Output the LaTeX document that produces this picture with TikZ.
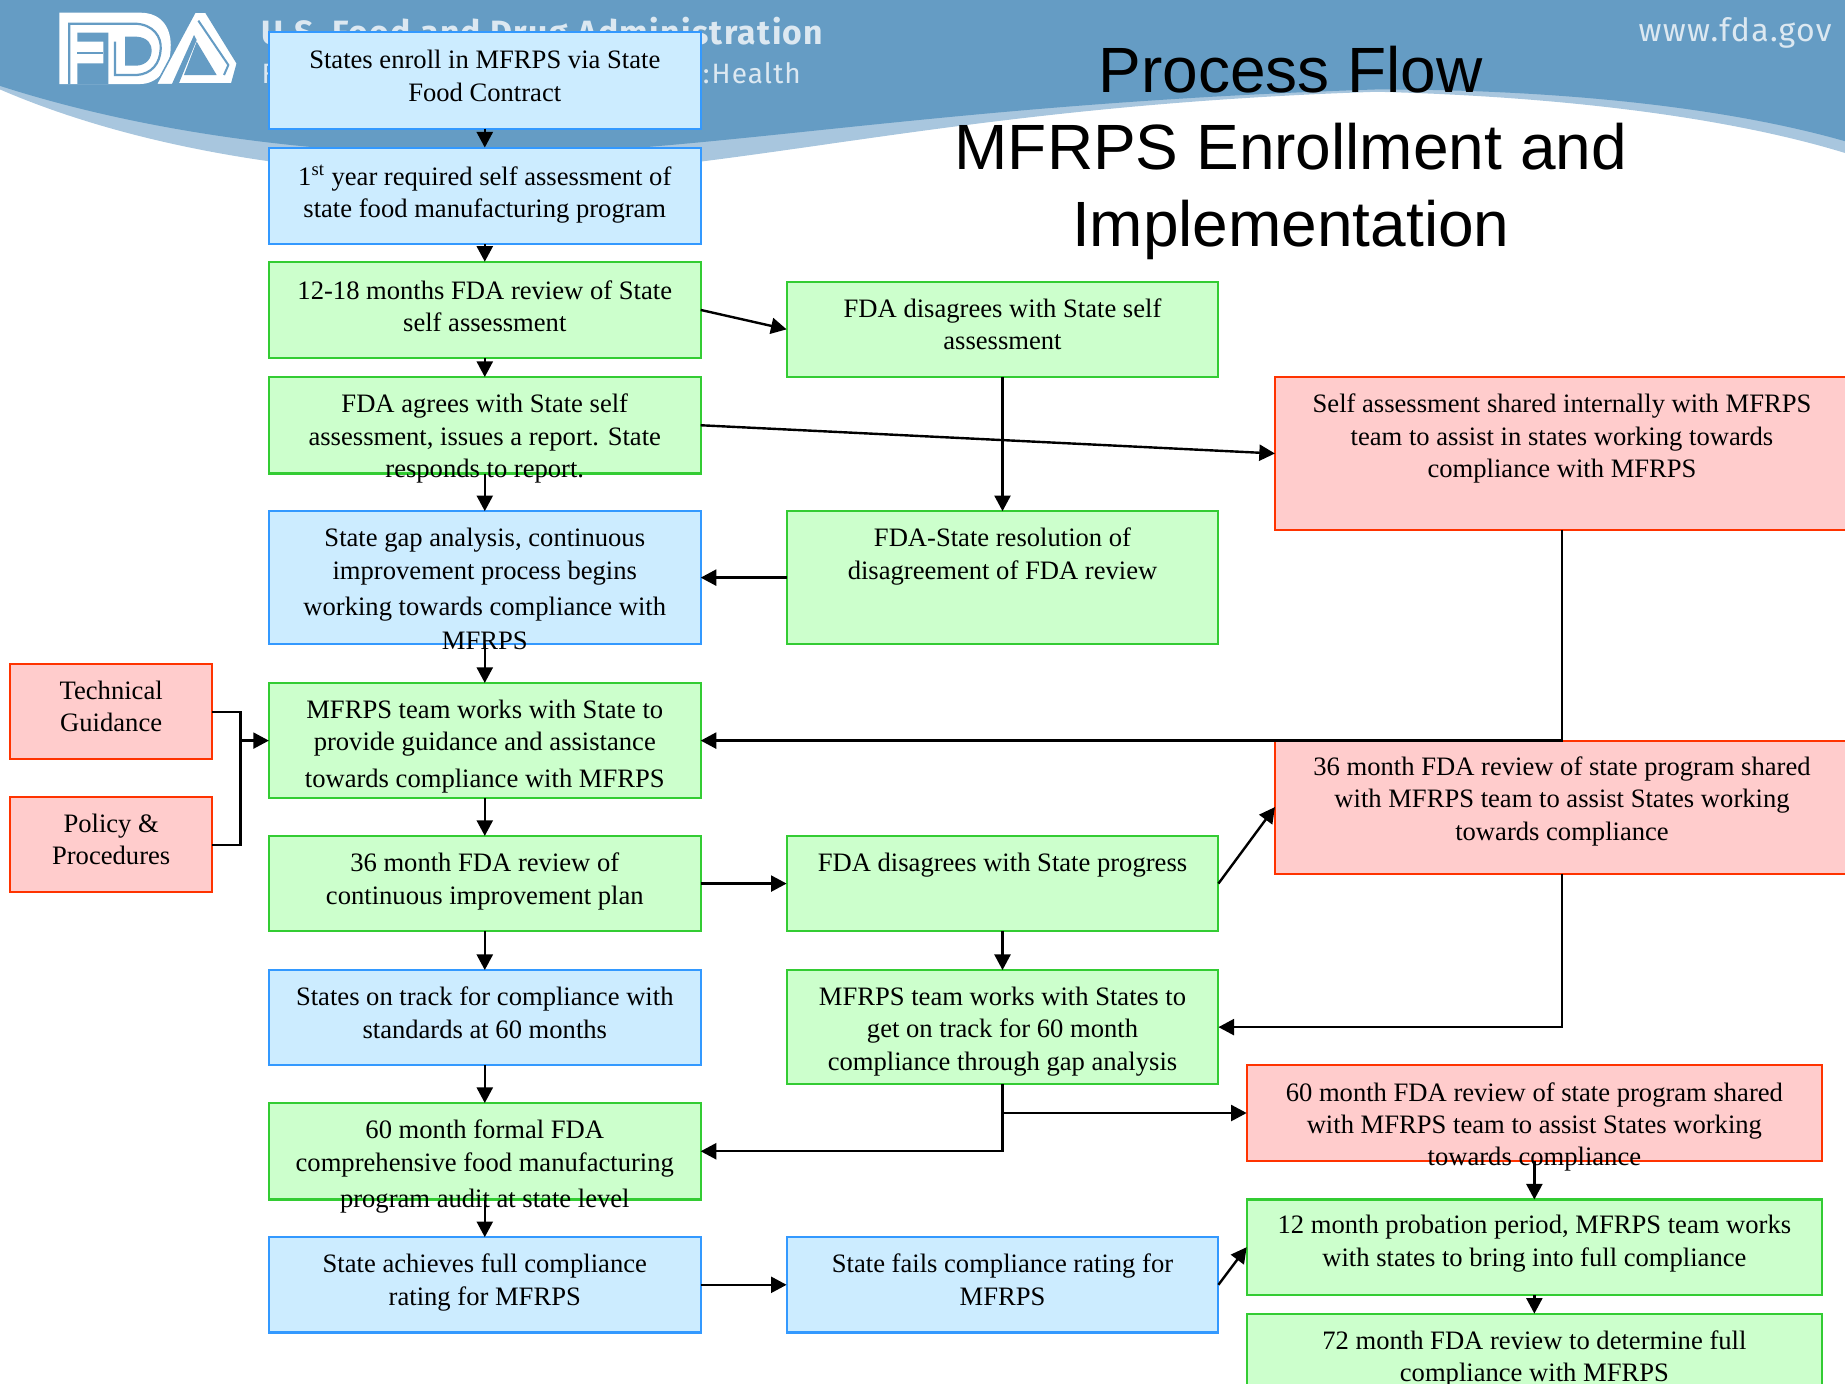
\documentclass[tikz,border=0pt]{standalone}
\usepackage{fontspec}
\setmainfont{Liberation Serif}
\newfontfamily\arialf{Liberation Sans}
\newfontfamily\headf[LetterSpace=4]{Fira Sans}
\usetikzlibrary{arrows.meta,calc}
\definecolor{hdr}{HTML}{659CC4}
\definecolor{hdrlight}{HTML}{A8C6DE}
\definecolor{hdrtxt}{HTML}{DCE8F1}
\definecolor{bfill}{HTML}{CCECFF}\definecolor{bline}{HTML}{3399FF}
\definecolor{gfill}{HTML}{CCFFCC}\definecolor{gline}{HTML}{33CC33}
\definecolor{rfill}{HTML}{FFCCCC}\definecolor{rline}{HTML}{FF3300}
\tikzset{
  x=0.5883pt,y=-0.5883pt,
  flowbox/.style={rectangle,inner sep=0pt,outer sep=0pt,line width=1.05pt},
  bluebox/.style={flowbox,draw=bline,fill=bfill},
  greenbox/.style={flowbox,draw=gline,fill=gfill},
  redbox/.style={flowbox,draw=rline,fill=rfill},
  conn/.style={line width=1.2pt,black,-{Triangle[length=7.8pt,width=8pt]}},
  plainconn/.style={line width=1.2pt,black},
  titletext/.style={font=\arialf\fontsize{32}{38.5}\selectfont,align=center},
}
% name, style, l, t, r, b, top pad(pt), text
\newcommand{\fbx}[8]{%
  \pgfmathsetlengthmacro{\fbw}{(#5-#3)*0.5883}%
  \pgfmathsetlengthmacro{\fbh}{(#6-#4)*0.5883}%
  \node[#2,anchor=center] (#1) at ({(#3+#5)/2+0.5},{(#4+#6)/2+0.4})
    {\parbox[c][\fbh][t]{\fbw}{\centering\fontsize{13.3}{16.2}\selectfont\vspace*{\dimexpr#7+6.5pt\relax}#8\par\vspace*{-30pt}}};%
}
\begin{document}
\begin{tikzpicture}
\useasboundingbox (0,0) rectangle (1568,1175.4);
\clip (0,0) rectangle (1568,1175.4);
% header band
\fill[hdrlight] (0,76) .. controls (90,115) and (230,150) .. (420,150)
  .. controls (620,150) and (800,90) .. (1170,78)
  .. controls (1330,82) and (1470,100) .. (1568,130) -- (1568,0) -- (0,0) -- cycle;
\fill[hdr] (0,73) .. controls (90,102) and (230,132) .. (420,132)
  .. controls (620,128) and (800,88) .. (1170,76)
  .. controls (1330,76) and (1470,92) .. (1568,120) -- (1568,0) -- (0,0) -- cycle;
% FDA logo
\begin{scope}[shift={(34,0)},x=0.16667pt,y=-0.16667pt]
\fill[white] (58,38) -- (300,38) .. controls (370,38) and (395,90) .. (392,145)
  .. controls (390,210) and (350,252) .. (300,252) -- (58,252) -- cycle;
\fill[hdr] (112,98) -- (205,98) -- (205,252) -- (112,252) -- (112,190) -- (190,190) -- (190,125) -- (112,125) -- cycle;
\fill[hdr] (255,110) -- (290,110) .. controls (325,112) and (335,135) .. (335,150)
  .. controls (335,175) and (320,195) .. (290,197) -- (255,197) -- cycle;
\draw[hdr,line width=1.1pt] (88,252) -- (88,71) -- (285,71) .. controls (340,73) and (365,110) .. (362,148)
  .. controls (360,190) and (335,222) .. (290,225) -- (225,225) -- (225,125);
\draw[hdr,line width=1pt] (112,158) -- (190,158);
\fill[white,draw=hdr,line width=.8pt] (348,254) -- (465,36) -- (497,36) -- (592,190) -- (575,252) -- (430,252) -- (415,252) -- (395,254) -- cycle;
\fill[hdr] (432,225) -- (470,125) -- (530,225) -- cycle;
\fill[hdr] (395,254) -- (415,254) -- (470,120) -- (462,105) -- cycle;
\draw[hdr,line width=1pt] (475,62) -- (565,195) -- (552,225);
\end{scope}
% header text
\node[anchor=base west,inner sep=0,text=hdrtxt,font=\headf\bfseries\fontsize{16.85}{20}\selectfont] (hd1) at (222,38) {U.S. Food and Drug Administration};
\node[anchor=base west,inner sep=0,text=hdrtxt,font=\headf\fontsize{14}{18}\selectfont] (hd2) at (222,71) {F};
\node[anchor=base east,inner sep=0,text=hdrtxt,font=\headf\fontsize{14}{18}\selectfont] (hd3) at (681,71) {:\hspace{1pt}Health};
\node[anchor=base east,inner sep=0,text=hdrtxt,font=\headf\fontsize{16}{18}\selectfont] (hd4) at (1557,35) {www.fda.gov};
% title
\node[titletext,anchor=north] (title) at (1097,33.5) {Process Flow\\MFRPS Enrollment and\\Implementation};
% boxes
\fbx{aa}{bluebox}{228}{27}{595}{109}{2.5pt}{States enroll in MFRPS via State\\Food Contract}
\fbx{ab}{bluebox}{228}{125}{595}{207}{2pt}{1\textsuperscript{st} year required self assessment of\\state food manufacturing program}
\fbx{ac}{greenbox}{228}{222}{595}{304}{3pt}{12-18 months FDA review of State\\self assessment}
\fbx{ad}{greenbox}{228}{320}{595}{402}{2pt}{FDA agrees with State self\\assessment, issues a report. State\\responds to report.}
\fbx{ae}{bluebox}{228}{434}{595}{547}{2pt}{State gap analysis, continuous\\improvement process begins\\[2pt]working towards compliance with\\[1pt]MFRPS}
\fbx{af}{greenbox}{228}{580}{595}{678}{2pt}{MFRPS team works with State to\\provide guidance and assistance\\[2pt]towards compliance with MFRPS}
\fbx{ag}{greenbox}{228}{710}{595}{791}{2pt}{36 month FDA review of\\continuous improvement plan}
\fbx{ah}{bluebox}{228}{824}{595}{905}{2pt}{States on track for compliance with\\standards at 60 months}
\fbx{ai}{greenbox}{228}{937}{595}{1019}{2pt}{60 month formal FDA\\comprehensive food manufacturing\\[2pt]program audit at state level}
\fbx{aj}{bluebox}{228}{1051}{595}{1132}{2pt}{State achieves full compliance\\rating for MFRPS}
\fbx{ba}{greenbox}{668}{239}{1035}{320}{2pt}{FDA disagrees with State self\\assessment}
\fbx{bb}{greenbox}{668}{434}{1035}{547}{2pt}{FDA-State resolution of\\disagreement of FDA review}
\fbx{bc}{greenbox}{668}{710}{1035}{791}{2pt}{FDA disagrees with State progress}
\fbx{bd}{greenbox}{668}{824}{1035}{921}{2pt}{MFRPS team works with States to\\get on track for 60 month\\compliance through gap analysis}
\fbx{be}{bluebox}{668}{1051}{1035}{1132}{2pt}{State fails compliance rating for\\MFRPS}
\fbx{ca}{redbox}{1083}{320}{1571}{450}{2pt}{Self assessment shared internally with MFRPS\\team to assist in states working towards\\compliance with MFRPS}
\fbx{cb}{redbox}{1083}{629}{1571}{742}{1.5pt}{36 month FDA review of state program shared\\with MFRPS team to assist States working\\towards compliance}
\fbx{cc}{redbox}{1059}{905}{1548}{986}{2pt}{60 month FDA review of state program shared\\with MFRPS team to assist States working\\towards compliance}
\fbx{cd}{greenbox}{1059}{1019}{1548}{1100}{1.5pt}{12 month probation period, MFRPS team works\\with states to bring into full compliance}
\fbx{ce}{greenbox}{1059}{1116}{1548}{1198}{2pt}{72 month FDA review to determine full\\compliance with MFRPS}
\fbx{la}{redbox}{8}{564}{180}{645}{2pt}{Technical\\Guidance}
\fbx{lb}{redbox}{8}{677}{180}{758}{2pt}{Policy \&\\Procedures}
\coordinate (jn) at (204.5,629.4);
% connectors
\draw[conn] (aa) -- (ab);
\draw[conn] (ab) -- (ac);
\draw[conn] (ac) -- (ad);
\draw[conn] (ad) -- (ae);
\draw[conn] (ae) -- (af);
\draw[conn] (af) -- (ag);
\draw[conn] (ag) -- (ah);
\draw[conn] (ah) -- (ai);
\draw[conn] (ai) -- (aj);
\draw[conn] (ac.east) -- (ba.west);
\draw[conn] (ad.east) -- (ca.west);
\draw[conn] (ba) -- (bb);
\draw[conn] (bb) -- (ae);
\draw[conn] (ca.south) |- (af.east);
\draw[plainconn] (la.east) -| (jn);
\draw[plainconn] (lb.east) -| (jn);
\draw[conn] (jn) -- (af.west);
\draw[conn] (ag) -- (bc);
\draw[conn] (bc.east) -- (cb.west);
\draw[conn] (bc) -- (bd);
\draw[conn] (cb.south) |- (bd.east);
\draw[conn] (bd.south) |- (cc.west);
\draw[conn] (bd.south) |- (ai.east);
\draw[conn] (aj) -- (be);
\draw[conn] (be.east) -- (cd.west);
\draw[conn] (cc) -- (cd);
\draw[conn] (cd) -- (ce);
\end{tikzpicture}
\end{document}
